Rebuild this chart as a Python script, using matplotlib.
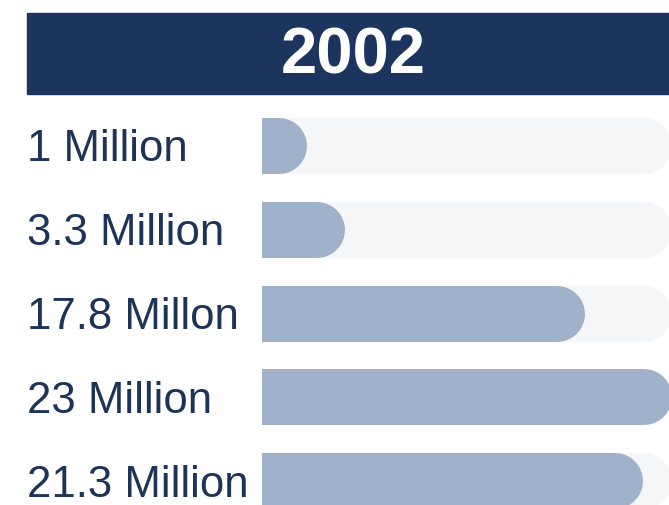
import matplotlib as mpl
mpl.use('Agg')
import matplotlib.pyplot as plt
from matplotlib.patches import Rectangle

title = '2002'
labels = ['1 Million', '3.3 Million', '17.8 Millon', '23 Million', '21.3 Million']
values = [1, 3.3, 17.8, 23, 21.3]

navy = '#1c355e'
bar_color = '#a0b2ca'
track_color = '#f5f6f8'
label_color = '#1d3458'

W, H = 669, 505
fig = plt.figure(figsize=(W / 100, H / 100), dpi=100)

# header band
fig.patches.append(Rectangle((27 / W, 1 - 94 / H), 660 / W, 81 / H,
                             transform=fig.transFigure, color=navy, zorder=0))
fig.text(353 / W, 1 - 73 / H, title, ha='center', va='baseline',
         color='white', fontsize=47, fontweight='bold', family='Liberation Sans')

# bars area: axes from the bar start to the right edge of the picture
ax = fig.add_axes([262 / W, 0, 1 - 262 / W, 1])
ax.set_xlim(0, 24.53)
y0, pitch = 145.5, 84
ax.set_ylim((H - y0) / pitch, -y0 / pitch)
ax.axis('off')

lw = 56 * 72 / 100
vmax = max(values)
for i, (lab, v) in enumerate(zip(labels, values)):
    ax.plot([-2, vmax], [i, i], color=track_color, lw=lw, solid_capstyle='round', zorder=1)
    ax.plot([-2, v], [i, i], color=bar_color, lw=lw, solid_capstyle='round', zorder=2)
    yc = y0 + pitch * i
    fig.text(27 / W, 1 - (yc + 15.5) / H, lab, ha='left', va='baseline',
             color=label_color, fontsize=31.5, family='Liberation Sans')

fig.savefig('out.png', dpi=100)
